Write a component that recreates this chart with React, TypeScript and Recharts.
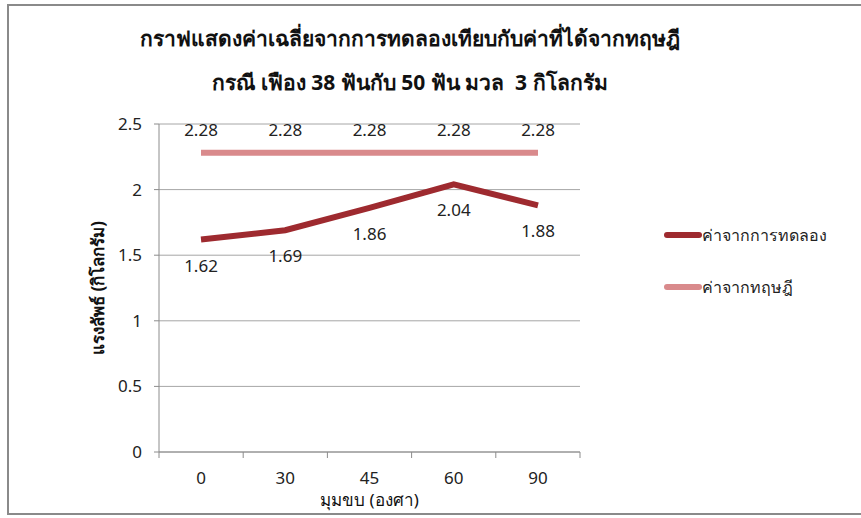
import { LineChart, Line, XAxis, YAxis, CartesianGrid, Legend, LabelList } from 'recharts';

// มุมขบ (องศา)
const angles = ['0', '30', '45', '60', '90'];
// ค่าเฉลี่ยจากการทดลอง
const experimental = [1.62, 1.69, 1.86, 2.04, 1.88];
// ค่าที่ได้จากทฤษฎี
const theoretical = [2.28, 2.28, 2.28, 2.28, 2.28];
const yTicks = [0, 0.5, 1, 1.5, 2, 2.5];

const seriesNames = ['ค่าจากการทดลอง', 'ค่าจากทฤษฎี'];
const seriesColors = ['#9e2a2f', '#d98a8c'];

const data = angles.map((a, i) => ({
  angle: a,
  exp: experimental[i],
  theory: theoretical[i],
}));

// tick marks between categories, like Excel
const frameTicks = angles.map((_, i) => i).concat(angles.length);

const font = '"Noto Sans", "DejaVu Sans", sans-serif';

function LegendBox() {
  return (
    <div style={{ fontFamily: font, fontSize: 16, color: '#222' }}>
      {seriesNames.map((name, i) => (
        <div key={name} style={{ display: 'flex', alignItems: 'center', height: 26, marginBottom: 26 }}>
          <span style={{ display: 'inline-block', width: 38, height: 6, borderRadius: 3, background: seriesColors[i] }} />
          <span>{name}</span>
        </div>
      ))}
    </div>
  );
}

export default function App() {
  return (
    <div style={{ position: 'absolute', left: 0, top: 0, width: 861, height: 518, background: '#fff', fontFamily: font }}>
      {/* กรอบรูป */}
      <div style={{ position: 'absolute', left: 7, top: 4, width: 870, height: 511, border: '2px solid #8a8a8a', boxSizing: 'border-box' }} />

      <div style={{ position: 'absolute', left: 0, top: 22, width: 820, textAlign: 'center', fontSize: 21, fontWeight: 700, color: '#111' }}>
        กราฟแสดงค่าเฉลี่ยจากการทดลองเทียบกับค่าที่ได้จากทฤษฎี
      </div>
      <div style={{ position: 'absolute', left: 0, top: 66, width: 820, textAlign: 'center', fontSize: 21, fontWeight: 700, color: '#111' }}>
        กรณี เฟือง 38 ฟันกับ 50 ฟัน มวล&nbsp; 3 กิโลกรัม
      </div>

      <div style={{ position: 'absolute', left: 0, top: 0 }}>
        <LineChart width={861} height={518} data={data} margin={{ top: 124, right: 281, bottom: 8, left: 0 }}>
          <CartesianGrid vertical={false} stroke="#a6a6a6" strokeWidth={1} />
          {/* axis line with tick marks between categories */}
          <XAxis
            type="number"
            dataKey="exp"
            domain={[0, angles.length]}
            allowDataOverflow
            ticks={frameTicks}
            tickFormatter={() => ''}
            tickSize={6}
            height={8}
            stroke="#8c8c8c"
          />
          <XAxis
            xAxisId="cat"
            dataKey="angle"
            height={50}
            padding={{ left: 42, right: 42 }}
            axisLine={false}
            tickLine={false}
            tick={{ fill: '#222', fontSize: 17, fontFamily: font }}
            tickMargin={6}
            label={{ value: 'มุมขบ (องศา)', position: 'insideBottom', offset: 4, fill: '#111', fontSize: 17, fontFamily: font }}
          />
          <YAxis
            width={159}
            domain={[0, 2.5]}
            ticks={yTicks}
            tick={{ fill: '#222', fontSize: 17, fontFamily: font }}
            tickSize={5}
            tickMargin={12}
            stroke="#8c8c8c"
            label={{ value: 'แรงลัพธ์ (กิโลกรัม)', angle: -90, position: 'center', dx: 18, fill: '#111', fontSize: 17, fontWeight: 700, fontFamily: font }}
          />
          <Legend
            layout="vertical"
            align="center"
            verticalAlign="middle"
            content={() => <LegendBox />}
            wrapperStyle={{ left: 664, top: 222, width: 200 }}
          />
          <Line
            xAxisId="cat"
            dataKey="theory"
            name={seriesNames[1]}
            stroke={seriesColors[1]}
            strokeWidth={6}
            dot={false}
            isAnimationActive={false}
          >
            <LabelList dataKey="theory" position="top" offset={17} fill="#222" fontSize={17} fontFamily={font} />
          </Line>
          <Line
            xAxisId="cat"
            dataKey="exp"
            name={seriesNames[0]}
            stroke={seriesColors[0]}
            strokeWidth={6}
            dot={false}
            isAnimationActive={false}
          >
            <LabelList dataKey="exp" position="bottom" offset={20} fill="#222" fontSize={17} fontFamily={font} />
          </Line>
        </LineChart>
      </div>
    </div>
  );
}
